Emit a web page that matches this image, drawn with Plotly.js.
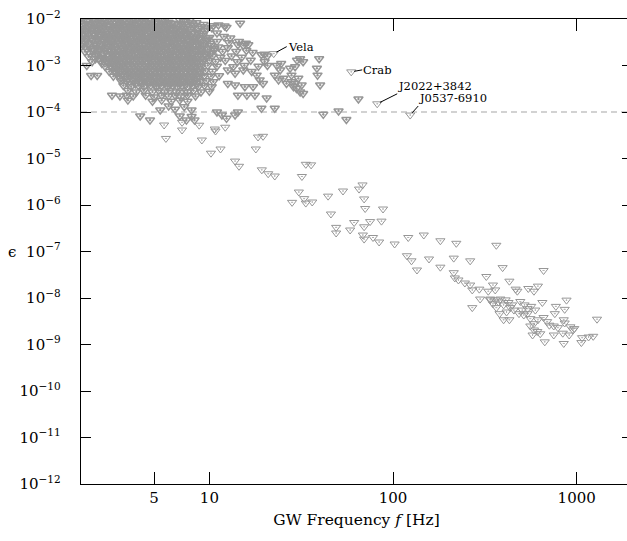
<!DOCTYPE html>
<html>
<head>
<meta charset="utf-8">
<script src="https://cdn.plot.ly/plotly-3.0.1.min.js"></script>
<style>
html,body{margin:0;padding:0;overflow:hidden;background:#fff;width:627px;height:541px;}
#chart{position:absolute;left:0;top:0;}
</style>
</head>
<body>
<div id="chart"></div>
<script>
// ---- Data (GW frequency in Hz, ellipticity upper limit) ----
// Dense low-frequency population
const lowFreqCluster = [
[2.5,1.03e-2],[3.3,1.04e-2],[3.9,1.05e-2],[4.5,1.02e-2],[5.8,1.03e-2],
[2.02,9.4e-3],[2.15,8.8e-3],[2.3,9.6e-3],[2.41,8.6e-3],[2.6,9.2e-3],[2.75,9.7e-3],[2.9,8.9e-3],[3.05,9.3e-3],[3.2,8.7e-3],[3.4,9.5e-3],[3.55,9.0e-3],[3.75,8.6e-3],[3.95,9.6e-3],[4.15,9.1e-3],[4.4,8.8e-3],[4.65,9.4e-3],[4.85,9.7e-3],[5.1,8.7e-3],[5.5,9.2e-3],[6.0,8.5e-3],[6.9,9.5e-3],[7.3,9.0e-3],[7.8,9.3e-3],[8.0,8.2e-3],[10.5,7.2e-3],[11.2,7.4e-3],[12.1,7.1e-3],[14.7,8.1e-3],
[2.08,8.0e-3],[2.22,7.8e-3],[2.36,8.1e-3],[2.53,7.9e-3],[2.68,8.2e-3],[2.83,7.8e-3],[2.98,8.0e-3],[3.12,8.2e-3],[3.3,7.9e-3],[3.48,8.1e-3],[3.65,7.8e-3],[3.85,8.0e-3],[4.05,8.2e-3],[4.28,7.9e-3],[4.52,8.1e-3],[4.75,7.8e-3],[5.0,8.0e-3],[5.3,8.2e-3],[5.7,7.9e-3],[6.2,8.1e-3],[6.5,7.8e-3],[7.0,8.0e-3],[7.6,7.7e-3],[8.5,8.3e-3],[9.3,7.6e-3],
[2.05,7.3e-3],[2.2,6.8e-3],[2.35,7.1e-3],[2.5,6.6e-3],[2.65,7.4e-3],[2.8,6.9e-3],[3.0,7.2e-3],[3.15,6.7e-3],[3.3,7.5e-3],[3.5,6.9e-3],[3.7,7.2e-3],[3.85,6.6e-3],[4.05,7.3e-3],[4.3,7.0e-3],[4.5,6.7e-3],[4.75,7.4e-3],[5.0,6.9e-3],[5.3,7.2e-3],[5.6,6.8e-3],[5.9,7.3e-3],[6.2,6.6e-3],[6.7,7.1e-3],[7.5,6.9e-3],[8.3,7.2e-3],[8.7,6.3e-3],[9.0,6.8e-3],[10.3,6.5e-3],[12.4,6.6e-3],
[2.02,6.2e-3],[2.18,6.1e-3],[2.32,6.3e-3],[2.48,6.0e-3],[2.62,6.2e-3],[2.88,6.1e-3],[3.05,6.3e-3],[3.22,6.0e-3],[3.4,6.2e-3],[3.58,6.1e-3],[3.78,6.3e-3],[3.98,6.0e-3],[4.18,6.2e-3],[4.4,6.1e-3],[4.62,6.3e-3],[4.9,6.0e-3],[5.15,6.2e-3],[5.45,6.1e-3],[5.75,6.3e-3],[6.1,6.0e-3],[6.5,6.2e-3],[6.9,6.1e-3],[7.35,6.3e-3],[7.9,6.0e-3],[9.7,6.1e-3],
[2.0,5.7e-3],[2.12,5.3e-3],[2.27,5.6e-3],[2.45,5.2e-3],[2.6,5.8e-3],[2.78,5.4e-3],[2.95,5.6e-3],[3.1,5.2e-3],[3.28,5.7e-3],[3.45,5.4e-3],[3.62,5.8e-3],[3.8,5.3e-3],[4.0,5.5e-3],[4.2,5.1e-3],[4.45,5.7e-3],[4.7,5.4e-3],[4.95,5.6e-3],[5.2,5.2e-3],[5.45,5.8e-3],[5.75,5.3e-3],[6.05,5.6e-3],[6.4,5.1e-3],[6.8,5.7e-3],[7.2,5.3e-3],[7.7,5.5e-3],[8.6,5.2e-3],[9.4,5.6e-3],[11.0,5.0e-3],
[2.08,4.9e-3],[2.2,4.8e-3],[2.35,5.0e-3],[2.52,4.8e-3],[2.7,4.9e-3],[2.86,5.0e-3],[3.02,4.8e-3],[3.18,4.9e-3],[3.36,5.0e-3],[3.53,4.8e-3],[3.7,4.9e-3],[3.9,5.0e-3],[4.1,4.8e-3],[4.32,4.9e-3],[4.58,5.0e-3],[4.82,4.8e-3],[5.08,4.9e-3],[5.33,5.0e-3],[5.6,4.8e-3],[5.9,4.9e-3],[6.22,5.0e-3],[6.6,4.8e-3],[7.0,4.9e-3],[7.45,5.0e-3],[8.0,4.8e-3],[8.9,4.9e-3],
[2.03,4.4e-3],[2.2,4.1e-3],[2.38,4.5e-3],[2.55,4.2e-3],[2.72,4.4e-3],[2.88,4.0e-3],[3.05,4.5e-3],[3.22,4.2e-3],[3.4,4.4e-3],[3.58,4.1e-3],[3.76,4.5e-3],[3.95,4.2e-3],[4.15,4.3e-3],[4.38,4.0e-3],[4.6,4.4e-3],[4.85,4.1e-3],[5.1,4.5e-3],[5.35,4.2e-3],[5.65,4.3e-3],[5.95,4.0e-3],[6.3,4.4e-3],[6.6,4.1e-3],[7.0,4.5e-3],[7.4,4.0e-3],[7.9,4.3e-3],[8.5,4.1e-3],[9.2,4.4e-3],[10.0,4.0e-3],[12.0,4.2e-3],[13.0,3.9e-3],
[2.12,3.8e-3],[2.28,3.9e-3],[2.45,3.7e-3],[2.62,3.8e-3],[2.8,3.9e-3],[2.97,3.7e-3],[3.13,3.8e-3],[3.3,3.9e-3],[3.48,3.7e-3],[3.66,3.8e-3],[3.86,3.9e-3],[4.05,3.7e-3],[4.27,3.8e-3],[4.5,3.9e-3],[4.72,3.7e-3],[4.97,3.8e-3],[5.22,3.9e-3],[5.5,3.7e-3],[5.8,3.8e-3],[6.12,3.9e-3],[6.45,3.7e-3],[6.8,3.8e-3],[7.2,3.9e-3],[7.65,3.7e-3],[8.2,3.8e-3],[8.8,3.9e-3],[9.8,3.7e-3],
[2.0,3.5e-3],[2.1,3.2e-3],[2.3,3.4e-3],[2.47,3.6e-3],[2.65,3.3e-3],[2.82,3.5e-3],[3.0,3.2e-3],[3.18,3.4e-3],[3.35,3.6e-3],[3.52,3.3e-3],[3.7,3.5e-3],[3.9,3.2e-3],[4.1,3.4e-3],[4.3,3.6e-3],[4.55,3.3e-3],[4.8,3.5e-3],[5.05,3.2e-3],[5.3,3.4e-3],[5.6,3.6e-3],[5.9,3.3e-3],[6.2,3.5e-3],[6.5,3.2e-3],[6.9,3.4e-3],[7.3,3.6e-3],[7.8,3.3e-3],[8.3,3.5e-3],[8.9,3.2e-3],[9.6,3.4e-3],[11.0,3.3e-3],[12.8,3.1e-3],[14.5,3.3e-3],[15.8,3.0e-3],
[2.03,3.0e-3],[2.2,2.95e-3],[2.38,3.05e-3],[2.55,2.9e-3],[2.72,3.0e-3],[2.9,3.05e-3],[3.08,2.95e-3],[3.25,3.0e-3],[3.43,2.9e-3],[3.6,3.05e-3],[3.8,3.0e-3],[4.0,2.9e-3],[4.2,3.05e-3],[4.42,3.0e-3],[4.68,2.9e-3],[4.92,3.05e-3],[5.18,3.0e-3],[5.45,2.9e-3],[5.75,3.05e-3],[6.05,3.0e-3],[6.35,2.9e-3],[6.7,3.05e-3],[7.1,3.0e-3],[7.55,2.9e-3],[8.05,3.05e-3],[8.6,3.0e-3],[9.3,2.9e-3],[10.1,3.0e-3],
[2.05,2.7e-3],[2.25,2.5e-3],[2.42,2.7e-3],[2.6,2.5e-3],[2.78,2.6e-3],[2.95,2.8e-3],[3.12,2.5e-3],[3.3,2.7e-3],[3.5,2.5e-3],[3.68,2.6e-3],[3.88,2.8e-3],[4.08,2.5e-3],[4.3,2.7e-3],[4.5,2.5e-3],[4.75,2.6e-3],[5.0,2.8e-3],[5.25,2.5e-3],[5.5,2.7e-3],[5.8,2.5e-3],[6.1,2.6e-3],[6.45,2.8e-3],[6.8,2.5e-3],[7.2,2.7e-3],[7.6,2.5e-3],[8.1,2.6e-3],[8.7,2.8e-3],[9.3,2.5e-3],[10.2,2.7e-3],[11.2,2.5e-3],[12.6,2.4e-3],[14.3,2.8e-3],[15.3,2.7e-3],[16.3,2.8e-3],
[2.15,2.3e-3],[2.32,2.35e-3],[2.5,2.25e-3],[2.68,2.3e-3],[2.86,2.35e-3],[3.03,2.25e-3],[3.2,2.3e-3],[3.4,2.35e-3],[3.58,2.25e-3],[3.78,2.3e-3],[3.98,2.35e-3],[4.18,2.25e-3],[4.4,2.3e-3],[4.62,2.35e-3],[4.88,2.25e-3],[5.12,2.3e-3],[5.38,2.35e-3],[5.65,2.25e-3],[5.95,2.3e-3],[6.28,2.35e-3],[6.62,2.25e-3],[6.98,2.3e-3],[7.4,2.35e-3],[7.85,2.25e-3],[8.4,2.3e-3],[9.0,2.35e-3],[9.8,2.25e-3],[10.6,2.3e-3],
[2.1,2.0e-3],[2.35,2.1e-3],[2.5,1.95e-3],[2.7,2.1e-3],[2.9,2.0e-3],[3.05,2.15e-3],[3.25,1.95e-3],[3.42,2.1e-3],[3.6,2.0e-3],[3.8,2.15e-3],[4.0,1.95e-3],[4.2,2.1e-3],[4.45,2.0e-3],[4.7,2.15e-3],[4.95,1.95e-3],[5.2,2.1e-3],[5.45,2.0e-3],[5.75,2.15e-3],[6.05,1.95e-3],[6.35,2.1e-3],[6.7,2.0e-3],[7.05,2.15e-3],[7.45,1.95e-3],[7.9,2.1e-3],[8.4,2.0e-3],[9.0,2.15e-3],[9.7,1.95e-3],[10.6,2.1e-3],[11.8,2.0e-3],[14.0,2.0e-3],[15.9,2.1e-3],[17.2,1.9e-3],
[2.25,1.8e-3],[2.45,1.78e-3],[2.65,1.82e-3],[2.8,1.8e-3],[2.98,1.78e-3],[3.15,1.82e-3],[3.32,1.8e-3],[3.5,1.78e-3],[3.7,1.82e-3],[3.9,1.8e-3],[4.1,1.78e-3],[4.32,1.82e-3],[4.55,1.8e-3],[4.8,1.78e-3],[5.05,1.82e-3],[5.3,1.8e-3],[5.6,1.78e-3],[5.9,1.82e-3],[6.2,1.8e-3],[6.5,1.78e-3],[6.85,1.82e-3],[7.25,1.8e-3],[7.7,1.78e-3],[8.2,1.82e-3],[8.8,1.8e-3],[9.5,1.78e-3],[10.1,1.82e-3],
[2.2,1.55e-3],[2.4,1.65e-3],[2.6,1.5e-3],[2.85,1.6e-3],[3.0,1.7e-3],[3.2,1.55e-3],[3.38,1.65e-3],[3.55,1.5e-3],[3.75,1.6e-3],[3.95,1.7e-3],[4.15,1.55e-3],[4.4,1.65e-3],[4.6,1.5e-3],[4.85,1.6e-3],[5.1,1.7e-3],[5.4,1.55e-3],[5.7,1.65e-3],[6.0,1.5e-3],[6.3,1.6e-3],[6.6,1.7e-3],[7.0,1.55e-3],[7.4,1.65e-3],[7.8,1.5e-3],[8.3,1.6e-3],[8.9,1.7e-3],[9.6,1.55e-3],[10.4,1.6e-3],[11.5,1.5e-3],[13.2,1.6e-3],[15.0,1.5e-3],[19.2,1.7e-3],[19.9,1.75e-3],[20.7,1.6e-3],
[2.4,1.4e-3],[2.65,1.42e-3],[2.85,1.38e-3],[3.05,1.4e-3],[3.25,1.42e-3],[3.45,1.38e-3],[3.65,1.4e-3],[3.82,1.42e-3],[4.0,1.38e-3],[4.2,1.4e-3],[4.42,1.42e-3],[4.68,1.38e-3],[4.92,1.4e-3],[5.18,1.42e-3],[5.42,1.38e-3],[5.7,1.4e-3],[6.0,1.42e-3],[6.32,1.38e-3],[6.68,1.4e-3],[7.05,1.42e-3],[7.4,1.38e-3],[7.85,1.4e-3],[8.35,1.42e-3],[8.9,1.38e-3],[9.5,1.4e-3],
[2.3,1.2e-3],[2.55,1.3e-3],[2.75,1.25e-3],[2.95,1.2e-3],[3.15,1.3e-3],[3.35,1.22e-3],[3.55,1.28e-3],[3.72,1.2e-3],[3.9,1.3e-3],[4.1,1.24e-3],[4.3,1.2e-3],[4.55,1.3e-3],[4.8,1.22e-3],[5.05,1.28e-3],[5.3,1.2e-3],[5.55,1.3e-3],[5.85,1.24e-3],[6.15,1.2e-3],[6.5,1.3e-3],[6.85,1.22e-3],[7.2,1.28e-3],[7.6,1.2e-3],[8.1,1.3e-3],[8.6,1.24e-3],[9.2,1.2e-3],[10.0,1.3e-3],[10.8,1.22e-3],[12.2,1.28e-3],[14.2,1.2e-3],[16.8,1.3e-3],[20.0,1.2e-3],[30.0,1.3e-3],[31.2,1.4e-3],[32.4,1.2e-3],[39.6,1.4e-3],[24.6,1.1e-3],
[2.6,1.1e-3],[2.8,1.12e-3],[3.0,1.08e-3],[3.2,1.1e-3],[3.4,1.12e-3],[3.6,1.08e-3],[3.8,1.1e-3],[4.0,1.12e-3],[4.2,1.08e-3],[4.42,1.1e-3],[4.65,1.12e-3],[4.9,1.08e-3],[5.15,1.1e-3],[5.4,1.12e-3],[5.68,1.08e-3],[5.95,1.1e-3],[6.28,1.12e-3],[6.6,1.08e-3],[6.95,1.1e-3],[7.3,1.12e-3],[7.75,1.08e-3],[8.2,1.1e-3],[8.8,1.12e-3],
[2.15,1.0e-3],[2.7,9.6e-4],[2.9,1.0e-3],[3.1,9.4e-4],[3.3,1.0e-3],[3.5,9.6e-4],[3.7,1.0e-3],[3.9,9.4e-4],[4.1,1.0e-3],[4.3,9.6e-4],[4.5,1.0e-3],[4.75,9.4e-4],[5.0,1.0e-3],[5.25,9.6e-4],[5.5,1.0e-3],[5.8,9.4e-4],[6.1,1.0e-3],[6.4,9.6e-4],[6.75,1.0e-3],[7.1,9.4e-4],[7.5,1.0e-3],[7.9,9.6e-4],[8.4,1.0e-3],[9.0,9.4e-4],[9.8,1.0e-3],[11.0,9.6e-4],[13.5,9.4e-4],[15.5,1.0e-3],[18.5,9.6e-4],[20.7,1.0e-3],[23.3,1.0e-3],[29.3,9.4e-4],[27.5,8.7e-4],[38.5,8.7e-4],
[2.95,8.6e-4],[3.15,8.4e-4],[3.38,8.7e-4],[3.58,8.5e-4],[3.78,8.6e-4],[3.98,8.4e-4],[4.2,8.7e-4],[4.42,8.5e-4],[4.66,8.6e-4],[4.92,8.4e-4],[5.18,8.7e-4],[5.48,8.5e-4],[5.78,8.6e-4],[6.1,8.4e-4],[6.45,8.7e-4],[6.85,8.5e-4],[7.25,8.6e-4],[7.7,8.4e-4],[8.15,8.7e-4],[8.7,8.5e-4],
[2.85,7.4e-4],[3.05,7.8e-4],[3.25,7.5e-4],[3.45,7.9e-4],[3.65,7.4e-4],[3.85,7.7e-4],[4.05,7.5e-4],[4.3,7.9e-4],[4.55,7.4e-4],[4.8,7.7e-4],[5.05,7.5e-4],[5.35,7.9e-4],[5.65,7.4e-4],[5.95,7.7e-4],[6.3,7.5e-4],[6.65,7.9e-4],[7.0,7.4e-4],[7.4,7.7e-4],[7.85,7.5e-4],[8.3,7.9e-4],[8.9,7.4e-4],[9.5,7.7e-4],[10.4,7.5e-4],[12.6,8.0e-4],[13.8,6.8e-4],[15.3,8.0e-4],[17.0,7.4e-4],[24.3,8.0e-4],
[3.1,6.8e-4],[3.35,6.7e-4],[3.58,6.9e-4],[3.82,6.8e-4],[4.08,6.7e-4],[4.35,6.9e-4],[4.62,6.8e-4],[4.9,6.7e-4],[5.2,6.9e-4],[5.5,6.8e-4],[5.8,6.7e-4],[6.12,6.9e-4],[6.48,6.8e-4],[6.85,6.7e-4],[7.25,6.9e-4],[7.65,6.8e-4],[8.1,6.7e-4],[8.6,6.9e-4],
[2.27,6.1e-4],[2.45,6.1e-4],[3.0,5.9e-4],[3.2,6.2e-4],[3.45,5.8e-4],[3.7,6.1e-4],[3.95,5.9e-4],[4.2,6.2e-4],[4.45,5.8e-4],[4.7,6.1e-4],[5.0,5.9e-4],[5.3,6.2e-4],[5.6,5.8e-4],[5.9,6.1e-4],[6.2,5.9e-4],[6.55,6.2e-4],[6.9,5.8e-4],[7.3,6.1e-4],[7.75,5.9e-4],[8.2,6.2e-4],[8.8,5.8e-4],[9.4,6.1e-4],[10.2,5.9e-4],[11.3,6.0e-4],[18.1,6.2e-4],[22.7,6.2e-4],[28.0,6.2e-4],[38.8,6.2e-4],
[3.3,5.3e-4],[3.6,5.2e-4],[3.88,5.4e-4],[4.15,5.3e-4],[4.45,5.2e-4],[4.75,5.4e-4],[5.1,5.3e-4],[5.45,5.2e-4],[5.8,5.4e-4],[6.15,5.3e-4],[6.55,5.2e-4],[6.95,5.4e-4],[7.4,5.3e-4],[7.9,5.2e-4],[8.5,5.4e-4],
[3.3,4.7e-4],[3.55,4.5e-4],[3.85,4.8e-4],[4.15,4.5e-4],[4.45,4.7e-4],[4.75,4.5e-4],[5.05,4.8e-4],[5.4,4.5e-4],[5.75,4.7e-4],[6.1,4.5e-4],[6.5,4.8e-4],[6.9,4.5e-4],[7.3,4.7e-4],[7.8,4.5e-4],[8.3,4.8e-4],[8.9,4.5e-4],[9.6,4.7e-4],[10.5,4.5e-4],[12.6,4.1e-4],[18.8,4.9e-4],[19.6,4.1e-4],[23.8,4.9e-4],[25.3,5.3e-4],[30.5,5.3e-4],[26.3,4.1e-4],[28.0,4.5e-4],
[3.6,4.1e-4],[3.95,4.0e-4],[4.3,4.2e-4],[4.62,4.1e-4],[4.98,4.0e-4],[5.3,4.2e-4],[5.7,4.1e-4],[6.1,4.0e-4],[6.5,4.2e-4],[6.9,4.1e-4],[7.4,4.0e-4],[7.9,4.2e-4],[8.5,4.1e-4],
[3.4,3.7e-4],[3.75,3.5e-4],[4.1,3.7e-4],[4.4,3.5e-4],[4.8,3.7e-4],[5.15,3.5e-4],[5.5,3.7e-4],[5.9,3.5e-4],[6.3,3.7e-4],[6.7,3.5e-4],[7.1,3.7e-4],[7.6,3.5e-4],[8.1,3.7e-4],[8.7,3.5e-4],[9.4,3.7e-4],[10.3,3.5e-4],[13.8,3.8e-4],[15.6,3.5e-4],[17.3,3.5e-4],[28.7,3.5e-4],[29.3,4.1e-4],[31.8,3.8e-4],[40.1,3.8e-4],
[3.6,2.9e-4],[4.0,2.7e-4],[4.4,2.9e-4],[4.9,2.7e-4],[5.3,2.9e-4],[5.7,2.7e-4],[6.1,2.9e-4],[6.6,2.7e-4],[7.1,2.9e-4],[7.6,2.7e-4],[8.2,2.9e-4],[9.0,2.7e-4],[10.0,2.8e-4],[29.8,3.2e-4],[31.2,2.7e-4],[32.4,2.5e-4],
[2.95,2.3e-4],[3.26,2.2e-4],[3.55,2.3e-4],[3.85,2.2e-4],[4.5,2.3e-4],[5.0,2.1e-4],[5.5,2.3e-4],[6.0,2.2e-4],[6.5,2.3e-4],[7.0,2.1e-4],[7.6,2.3e-4],[8.4,2.2e-4],[14.3,2.3e-4],[16.0,2.3e-4],[17.7,2.3e-4],
[3.6,1.8e-4],[4.9,1.7e-4],[5.5,1.8e-4],[6.2,1.7e-4],[6.9,1.8e-4],[7.6,1.7e-4],[20.5,2.0e-4],[64.8,1.9e-4],
[5.4,1.1e-4],[6.5,1.15e-4],[6.0,1.35e-4],[7.3,1.3e-4],[8.0,1.1e-4],[11.0,1.0e-4],[14.3,1.0e-4],[19.2,1.2e-4],[22.7,1.2e-4],[50.5,1.05e-4],
[4.2,8.2e-5],[4.75,6.7e-5],[6.9,8.2e-5],[7.5,6.7e-5],[8.0,8.0e-5],[8.3,6.7e-5],[11.7,8.6e-5],[12.4,7.3e-5],[13.8,8.6e-5],[41.7,8.9e-5],[55.7,6.9e-5]
];

// Intermediate band
const midBand = [
[5.67,5.25e-5],[5.8,2.7e-5],[7.1,6.0e-5],[7.1,4.1e-5],[8.8,5.2e-5],[9.1,2.5e-5],[10.7,4.3e-5],[12.2,4.7e-5],[10.8,3.9e-5],[10.2,1.3e-5],[11.5,1.6e-5],
[17.9,1.6e-5],[18.4,2.9e-5],[19.6,3.0e-5],[13.8,8.8e-6],[14.5,6.8e-6],[19.3,5.7e-6],[20.9,4.7e-6],[22.7,4.2e-6],[33.5,7.5e-6],[35.8,7.3e-6],[31.9,4.1e-6],
[30.7,1.9e-6],[32.8,1.37e-6],[28.2,1.14e-6],[33.5,1.1e-6],[36.3,1.16e-6],[44.3,1.55e-6],[53.4,2.0e-6],[68.2,2.7e-6],[65.3,2.2e-6],[69.6,1.35e-6],[70.5,8.4e-7],[88.2,8.2e-7],
[45.9,6.4e-7],[49,3.3e-7],[49,2.5e-7],[58.4,2.9e-7],[61.4,4.2e-7],[69.6,3.4e-7],[75,4.4e-7],[86.5,4.5e-7],[68.5,2.26e-7],[69.6,1.85e-7],[77.8,2.0e-7],[84,1.6e-7],
[102,1.45e-7],[119,8.1e-8],[121,2.0e-7],[147,2.26e-7],[181,1.7e-7],[221,1.5e-7],[365,1.36e-7],[126,6.3e-8],[135,4.0e-8],[157,6.9e-8],[181,4.6e-8],[214,7.2e-8],[263,6.3e-8],
[214,3.5e-8],[217,2.7e-8],[227,2.44e-8],[246,2.1e-8],[263,1.9e-8],[270,1.49e-8],[295,1.55e-8],[322,2.9e-8],[395,4.5e-8],[660,3.9e-8],[350,1.9e-8],[360,1.49e-8],[330,1.4e-8],
[338,9.1e-9],[430,2.3e-8],[465,1.55e-8],[475,1.4e-8],[545,1.6e-8],[585,1.4e-8],[615,1.8e-8]
];

// Millisecond-pulsar band (high frequency)
const highBand = [
[270,6.2e-9],[380,4.6e-9],[400,3.4e-9],[430,3.4e-9],[485,4.6e-9],[515,4.3e-9],[540,4.6e-9],[493,8.4e-9],[650,8.0e-9],[770,6.6e-9],[760,4.6e-9],[860,5.7e-9],[880,9.0e-9],
[559,3.6e-9],[585,2.8e-9],[615,3.4e-9],[660,3.8e-9],[559,2.5e-9],[585,2.05e-9],[610,1.9e-9],[575,1.6e-9],[633,1.7e-9],[670,1.14e-9],[750,1.6e-9],[790,2.3e-9],[840,1.75e-9],
[690,3.1e-9],[710,2.6e-9],[750,2.5e-9],[850,3.4e-9],[860,2.9e-9],[850,1.05e-9],[923,2.4e-9],[955,2.05e-9],[970,2.2e-9],[910,1.6e-9],[1070,1.4e-9],[1060,1.1e-9],[1160,1.45e-9],[1230,1.5e-9],[1290,3.5e-9],
[338,9.5e-9],[360,9.1e-9],[375,8.2e-9],[384,9.5e-9],[400,7.1e-9],[410,9.1e-9],[425,8.0e-9],[435,6.2e-9],[445,7.1e-9],[365,6.2e-9],[415,5.0e-9],[455,5.5e-9],[350,7.5e-9],[298,9.5e-9],
[520,7.1e-9],[540,5.9e-9],[565,6.6e-9],[595,5.5e-9],[505,5.5e-9]
];

// Named pulsars
const namedPulsars = ['Vela', 'Crab', 'J2022+3842', 'J0537-6910'];
const namedFreq = [22.4, 59.2, 82, 124];
const namedEps = [1.8e-3, 7.3e-4, 1.5e-4, 8.6e-5];
const labelShiftX = [13, 11, 20, 8];
const labelShiftY = [-7, -2, -10, -9];
const labelYAnchor = ['middle', 'middle', 'bottom', 'bottom'];

// Reference level
const epsThreshold = 1e-4;

// Ticks
const xTickVals = [5, 10, 100, 1000];
const xTickText = ['5', '10', '100', '1000'];
const yExponents = [-2, -3, -4, -5, -6, -7, -8, -9, -10, -11, -12];

// ---- Build ----
const FONT = 'DejaVu Serif, serif';
const sparsePts = midBand.concat(highBand);
const grey = 'rgb(150,150,150)';
const traces = [
  {
    x: [2, 2000], y: [epsThreshold, epsThreshold],
    mode: 'lines', line: {color: 'rgb(165,165,165)', width: 1.2, dash: '6px,4px'},
    hoverinfo: 'skip'
  },
  {
    x: lowFreqCluster.map(p => p[0]), y: lowFreqCluster.map(p => p[1]),
    mode: 'markers', type: 'scatter',
    marker: {symbol: 'triangle-down-open-dot', size: 8, color: grey, line: {color: grey, width: 1.5}}
  },
  {
    x: sparsePts.map(p => p[0]).concat(namedFreq), y: sparsePts.map(p => p[1]).concat(namedEps),
    mode: 'markers', type: 'scatter',
    marker: {symbol: 'triangle-down-open-dot', size: 8, color: grey, line: {color: grey, width: 1}}
  }
];

const annotations = namedPulsars.map((name, i) => ({
  x: Math.log10(namedFreq[i]), y: Math.log10(namedEps[i]), xref: 'x', yref: 'y',
  text: name, showarrow: true, arrowhead: 0, arrowwidth: 1, arrowcolor: 'black',
  ax: labelShiftX[i], ay: labelShiftY[i], standoff: 3,
  xanchor: 'left', yanchor: labelYAnchor[i],
  font: {family: FONT, size: 11.5, color: 'black'}, borderpad: 0
}));
annotations.push({
  xref: 'paper', yref: 'paper', x: -0.125, y: 0.5, text: 'ϵ', showarrow: false,
  xanchor: 'center', yanchor: 'middle', font: {family: FONT, size: 15, color: 'black'}
});

const layout = {
  width: 640, height: 541,
  margin: {l: 81, r: 8, t: 19, b: 57},
  paper_bgcolor: 'white', plot_bgcolor: 'white',
  showlegend: false,
  font: {family: FONT, size: 15, color: 'black'},
  xaxis: {
    type: 'log', range: [Math.log10(2), Math.log10(2000)],
    tickmode: 'array', tickvals: xTickVals, ticktext: xTickText,
    ticks: 'inside', ticklen: 12, tickwidth: 1, tickcolor: 'black',
    showline: true, linecolor: 'black', linewidth: 1.3, mirror: 'ticks',
    showgrid: false, zeroline: false,
    tickfont: {size: 15},
    title: {text: 'GW Frequency <i>f</i> [Hz]', font: {size: 15.5}, standoff: 8}
  },
  yaxis: {
    type: 'log', range: [-12, -2],
    tickmode: 'array', tickvals: yExponents.map(e => Math.pow(10, e)),
    ticktext: yExponents.map(e => '10<sup>−' + Math.abs(e) + '</sup>'),
    ticks: 'inside', ticklen: 10, tickwidth: 1, tickcolor: 'black',
    showline: true, linecolor: 'black', linewidth: 1.3, mirror: 'ticks',
    showgrid: false, zeroline: false,
    tickfont: {size: 15}, ticklabelstandoff: 16
  },
  annotations: annotations
};

Plotly.newPlot('chart', traces, layout, {displayModeBar: false, staticPlot: true});
</script>
</body>
</html>
